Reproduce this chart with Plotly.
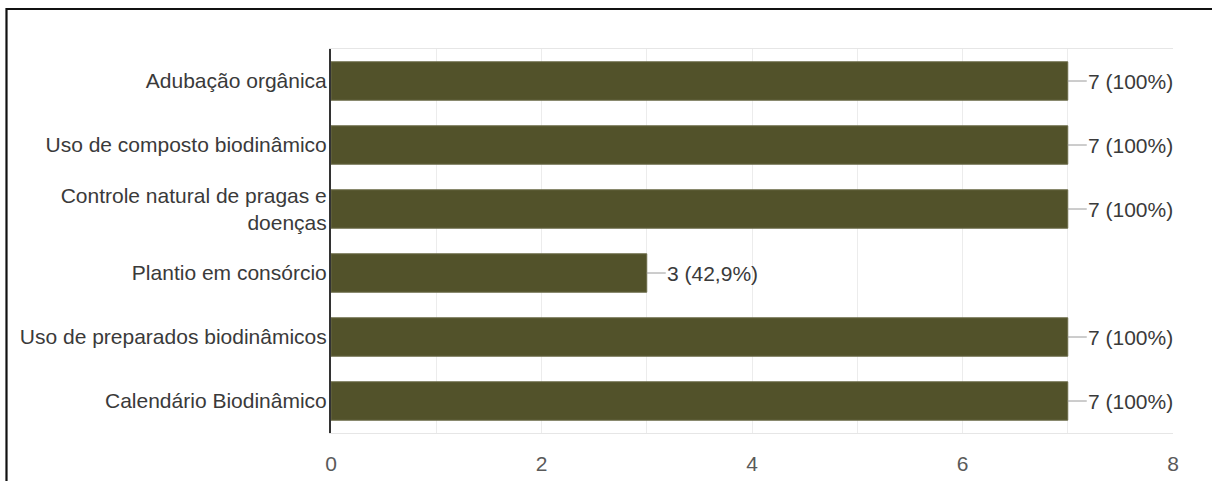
import plotly.graph_objects as go

categories = [
    "Adubação orgânica",
    "Uso de composto biodinâmico",
    "Controle natural de pragas e<br>doenças",
    "Plantio em consórcio",
    "Uso de preparados biodinâmicos",
    "Calendário Biodinâmico",
]
counts = [7, 7, 7, 3, 7, 7]
percent_labels = ["100%", "100%", "100%", "42,9%", "100%", "100%"]
x_ticks = [0, 2, 4, 6, 8]

FONT = "Liberation Sans, Arial, sans-serif"
BAR = "#52522a"
FS = 21

fig = go.Figure(
    go.Bar(
        y=categories,
        x=counts,
        orientation="h",
        width=0.6,
        marker=dict(color=BAR, line=dict(color="#6b6b48", width=1)),
        hoverinfo="skip",
    )
)

# value labels with short leader lines after each bar
for cat, n, pct in zip(categories, counts, percent_labels):
    fig.add_annotation(
        x=n, y=cat, xref="x", yref="y",
        text=f"{n} ({pct})",
        showarrow=True, arrowhead=0, arrowwidth=1, arrowcolor="#9a9a9a",
        ax=19, ay=0, xanchor="left", standoff=0, borderpad=0,
        font=dict(family=FONT, size=FS, color="#3a3a3a"),
    )

# outer frame
fig.add_shape(
    type="path", xref="paper", yref="paper",
    path="M -0.3854,-0.3 L -0.3854,1.1042 L 1.2,1.1042",
    line=dict(color="#111111", width=2.2),
)

fig.update_layout(
    width=1212, height=481,
    margin=dict(l=331, r=39, t=49, b=48, autoexpand=False),
    paper_bgcolor="white", plot_bgcolor="white",
    showlegend=False,
    font=dict(family=FONT, size=FS, color="#3a3a3a"),
    xaxis=dict(
        range=[0, 8], tickvals=x_ticks, ticktext=[str(v) for v in x_ticks],
        showgrid=True, gridcolor="#ececec", gridwidth=1,
        minor=dict(dtick=1, showgrid=True, gridcolor="#ececec", gridwidth=1),
        showline=True, linecolor="#e6e6e6", linewidth=1, mirror=True,
        ticks="outside", ticklen=12, tickcolor="rgba(0,0,0,0)",
        tickfont=dict(family=FONT, size=FS, color="#5a5a5a"),
        zeroline=False, fixedrange=True, automargin=False,
    ),
    yaxis=dict(
        autorange="reversed",
        showline=True, linecolor="#333333", linewidth=2,
        showgrid=False, ticks="", ticklabelstandoff=-2,
        tickfont=dict(family=FONT, size=FS, color="#3a3a3a"),
        fixedrange=True, automargin=False,
    ),
)

fig.write_html("out.html")
